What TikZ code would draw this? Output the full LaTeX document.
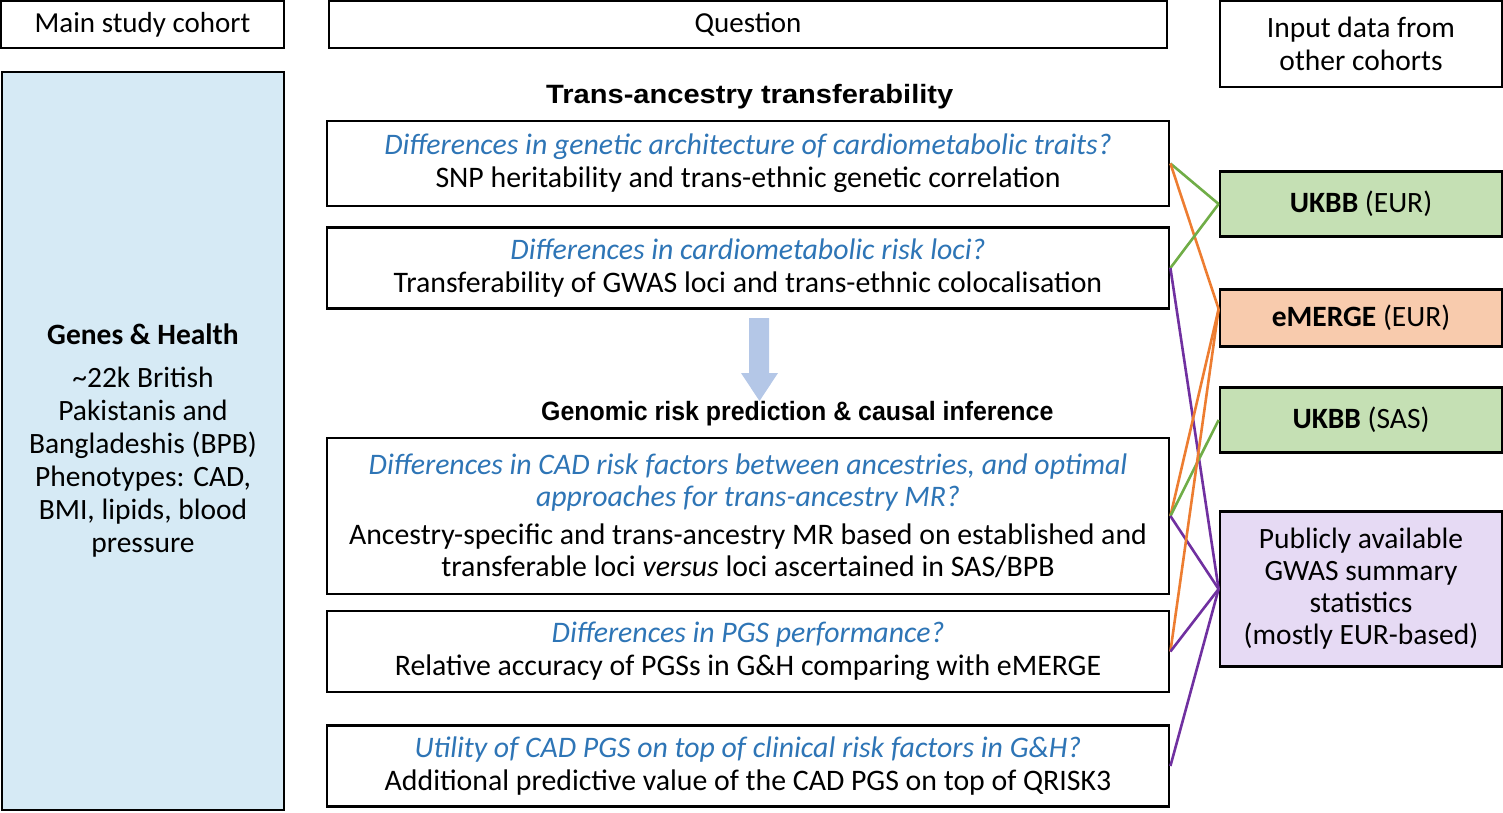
\documentclass[tikz,border=0pt]{standalone}
\usepackage{fontspec}
\setmainfont{Carlito}
\newfontfamily\arialfont{Liberation Sans}
\definecolor{qblue}{HTML}{2E75B6}
\definecolor{cohortfill}{HTML}{D6EAF5}
\definecolor{gfill}{HTML}{C5E0B4}
\definecolor{ofill}{HTML}{F8CBAD}
\definecolor{pfill}{HTML}{E6DAF4}
\definecolor{gline}{HTML}{70AD47}
\definecolor{oline}{HTML}{ED7D31}
\definecolor{pline}{HTML}{7030A0}
\definecolor{arrowblue}{HTML}{B4C7E7}
\begin{document}
\begin{tikzpicture}[x=1pt,y=-1pt,
  box/.style={draw=black, line width=2.8pt, align=center, inner sep=0pt, fill=white,
    font=\fontsize{29.5}{33}\selectfont},
  qbox/.style={box, minimum width=842pt, font=\fontsize{29.8}{33}\selectfont},
  sidebox/.style={box, minimum width=282pt},
  ttl/.style={anchor=west, inner sep=0pt, font=\arialfont\bfseries\fontsize{26.5}{30}\selectfont},
  conn/.style={line width=2.6pt}]
\useasboundingbox (0,0) rectangle (1503,812);

% headers
\node[box, minimum width=283pt, minimum height=47pt, font=\fontsize{29}{33}\selectfont] (h1) at (142.5,24.5) {Main study cohort};
\node[box, minimum width=838pt, minimum height=47pt, font=\fontsize{29}{33}\selectfont] (h2) at (748,24.5) {Question};
\node[sidebox, minimum height=86pt] (h3) at (1361,44) {Input data from\\other cohorts};

% main cohort
\node[box, fill=cohortfill, minimum width=282pt, minimum height=738pt] (coh) at (143,441)
 {\textbf{Genes \& Health}\\[10pt]\textasciitilde22k British\\Pakistanis and\\Bangladeshis (BPB)\\Phenotypes: CAD,\\BMI, lipids, blood\\pressure};

% titles
\node[ttl] (t1) at (546,97) {\scalebox{1.097}[1]{Trans-ancestry transferability}};
\node[ttl] (t2) at (541,414) {\scalebox{0.94}[1]{Genomic risk prediction \& causal inference}};

% side boxes
\node[sidebox, fill=gfill, minimum height=65pt] (ukeur) at (1361,204) {\textbf{UKBB} (EUR)};
\node[sidebox, fill=ofill, minimum height=57pt] (em) at (1361,318) {\textbf{eMERGE} (EUR)};
\node[sidebox, fill=gfill, minimum height=65pt] (uksas) at (1361,420) {\textbf{UKBB} (SAS)};
\node[sidebox, fill=pfill, minimum height=155pt, font=\fontsize{29.5}{32}\selectfont] (pub) at (1361,589) {Publicly available\\GWAS summary\\statistics\\(mostly EUR-based)};

% question boxes
\node[qbox, minimum height=85pt] (q1) at (748,163.5)
 {{\itshape\color{qblue}Differences in genetic architecture of cardiometabolic traits?}\\SNP heritability and trans-ethnic genetic correlation};
\node[qbox, minimum height=81pt] (q2) at (748,268)
 {{\itshape\color{qblue}Differences in cardiometabolic risk loci?}\\Transferability of GWAS loci and trans-ethnic colocalisation};
\node[qbox, minimum height=156pt, font=\fontsize{29.8}{32}\selectfont] (q3) at (748,516)
 {{\itshape\color{qblue}Differences in CAD risk factors between ancestries, and optimal}\\{\itshape\color{qblue}approaches for trans-ancestry MR?}\\[6pt]Ancestry-specific and trans-ancestry MR based on established and\\transferable loci \textit{versus} loci ascertained in SAS/BPB};
\node[qbox, minimum height=81pt] (q4) at (748,651.5)
 {{\itshape\color{qblue}Differences in PGS performance?}\\Relative accuracy of PGSs in G\&H comparing with eMERGE};
\node[qbox, minimum height=81pt] (q5) at (748,766)
 {{\itshape\color{qblue}Utility of CAD PGS on top of clinical risk factors in G\&H?}\\Additional predictive value of the CAD PGS on top of QRISK3};

% down arrow
\fill[arrowblue] (749,318) -- (769,318) -- (769,373) -- (778,373) -- (759.5,401) -- (741,373) -- (749,373) -- cycle;

% connectors
\draw[conn, gline] (q1.east) -- (ukeur.west);
\draw[conn, oline] (q1.east) -- ([yshift=9pt]em.west);
\draw[conn, gline] (q2.east) -- (ukeur.west);
\draw[conn, pline] (q2.east) -- (pub.west);
\draw[conn, oline] (q3.east) -- ([yshift=9pt]em.west);
\draw[conn, gline] (q3.east) -- (uksas.west);
\draw[conn, pline] (q3.east) -- (pub.west);
\draw[conn, oline] (q4.east) -- ([yshift=9pt]em.west);
\draw[conn, pline] (q4.east) -- (pub.west);
\draw[conn, pline] (q5.east) -- (pub.west);
\end{tikzpicture}
\end{document}
